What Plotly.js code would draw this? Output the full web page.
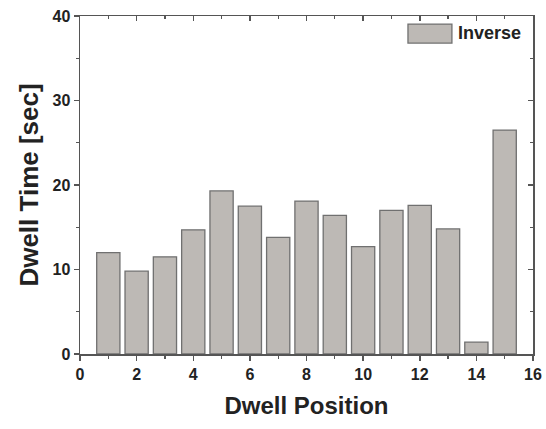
<!DOCTYPE html>
<html>
<head>
<meta charset="utf-8">
<script src="https://cdn.plot.ly/plotly-3.0.1.min.js"></script>
<style>html,body{margin:0;padding:0;background:#fff;}#chart{width:546px;height:429px;}</style>
</head>
<body>
<div id="chart"></div>
<script>
const positions = [1,2,3,4,5,6,7,8,9,10,11,12,13,14,15];
const dwellTimes = [12.0,9.8,11.5,14.7,19.3,17.5,13.8,18.1,16.4,12.7,17.0,17.6,14.8,1.4,26.5];
const seriesName = "Inverse";
const xTicks = [0,2,4,6,8,10,12,14,16];
const yTicks = [0,10,20,30,40];
const xMinor = [1,3,5,7,9,11,13,15];
const yMinor = [5,15,25,35];

const FONT = "Liberation Sans, Arial, sans-serif";
const BAR_FILL = '#bdb9b5', BAR_LINE = '#707070';
const axisCommon = {
  showgrid:false, zeroline:false, showline:true, linecolor:'#555', linewidth:1.5,
  ticklen:5, tickwidth:1.5, tickcolor:'#555',
  tickfont:{family:FONT, size:16, color:'#222', weight:'bold'}
};

const data = [{
  type:'bar', x:positions, y:dwellTimes, name:seriesName, width:0.82,
  marker:{color:BAR_FILL, line:{color:BAR_LINE, width:1.3}},
  showlegend:false
},{
  type:'scatter', x:[], y:[], xaxis:'x2', yaxis:'y2', showlegend:false, hoverinfo:'skip'
}];

const layout = {
  width:546, height:429,
  margin:{l:80, r:13, t:16, b:75},
  paper_bgcolor:'#fff', plot_bgcolor:'#fff',
  font:{family:FONT, color:'#222'},
  showlegend:false,
  xaxis:Object.assign({}, axisCommon, {
    range:[0,16], tickvals:xTicks, ticktext:xTicks.map(String), ticks:'outside',
    minor:{tickvals:xMinor, ticks:'outside', ticklen:3, tickwidth:1.2, tickcolor:'#555'},
    title:{text:'Dwell Position', font:{family:FONT, size:24, color:'#222', weight:'bold'}, standoff:15}
  }),
  yaxis:Object.assign({}, axisCommon, {
    range:[0,40], tickvals:yTicks, ticktext:yTicks.map(String), ticks:'outside',
    minor:{tickvals:yMinor, ticks:'outside', ticklen:3, tickwidth:1.2, tickcolor:'#555'},
    title:{text:'Dwell Time [sec]', font:{family:FONT, size:26, color:'#222', weight:'bold'}, standoff:6}
  }),
  xaxis2:{overlaying:'x', side:'top', range:[0,16], showgrid:false, zeroline:false,
    showline:true, linecolor:'#555', linewidth:1.5, ticks:'inside', ticklen:5, tickwidth:1.5, tickcolor:'#555',
    tickvals:xTicks, showticklabels:false,
    minor:{tickvals:xMinor, ticks:'inside', ticklen:3, tickwidth:1.2, tickcolor:'#555'}},
  yaxis2:{overlaying:'y', side:'right', range:[0,40], showgrid:false, zeroline:false,
    showline:true, linecolor:'#555', linewidth:1.5, ticks:'inside', ticklen:5, tickwidth:1.5, tickcolor:'#555',
    tickvals:yTicks, showticklabels:false,
    minor:{tickvals:yMinor, ticks:'inside', ticklen:3, tickwidth:1.2, tickcolor:'#555'}},
  shapes:[{type:'rect', xref:'paper', yref:'paper', x0:0.724, x1:0.821, y0:0.920, y1:0.976,
    fillcolor:BAR_FILL, line:{color:BAR_LINE, width:1.3}}],
  annotations:[{xref:'paper', yref:'paper', x:0.830, y:0.949, xanchor:'left', yanchor:'middle',
    text:seriesName, showarrow:false, font:{family:FONT, size:18, color:'#222', weight:'bold'}}]
};

Plotly.newPlot('chart', data, layout, {displayModeBar:false, staticPlot:true});
</script>
</body>
</html>
